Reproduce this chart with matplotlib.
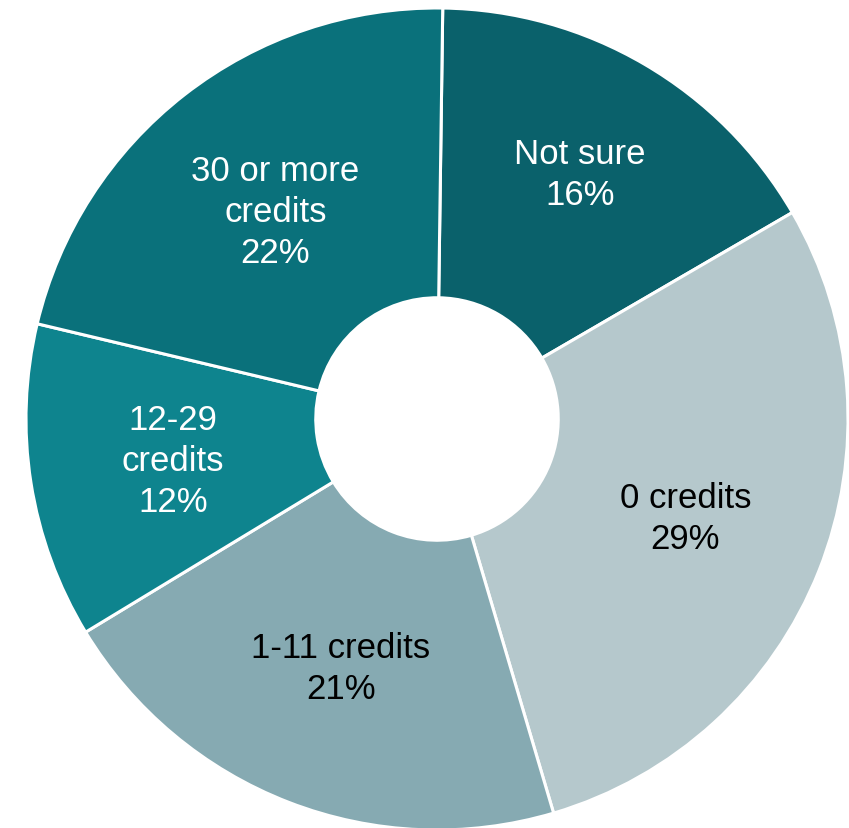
import numpy as np
import matplotlib.pyplot as plt

# ---------------- DATA ----------------

categories = ['Not sure', '0 credits', '1-11 credits', '12-29 credits', '30 or more credits']
shares = [16.4, 28.8, 20.9, 12.4, 21.5]
pct_labels = ['16%', '29%', '21%', '12%', '22%']
label_text = ['Not sure', '0 credits', '1-11 credits', '12-29\ncredits', '30 or more\ncredits']

colors = ['#0a616b', '#b5c8cc', '#86aab2', '#0e848e', '#0a717b']
text_colors = ['white', 'black', 'black', 'white', 'white']
label_radius = [0.69, 0.65, 0.65, 0.65, 0.64]

# ---------------- DRAW ----------------

plt.rcParams['font.family'] = ['Liberation Sans', 'DejaVu Sans']

fig = plt.figure(figsize=(8.49, 8.29), dpi=100)
ax = fig.add_axes([26 / 849, -2 / 829, 822 / 849, 822 / 829])

wedges, _ = ax.pie(
    shares,
    colors=colors,
    startangle=89.2,
    counterclock=False,
    radius=1.0,
    wedgeprops=dict(width=0.705, edgecolor='white', linewidth=2.2),
)

for w, lab, pct, tc, r in zip(wedges, label_text, pct_labels, text_colors, label_radius):
    mid = np.deg2rad((w.theta1 + w.theta2) / 2)
    ax.text(r * np.cos(mid), r * np.sin(mid), lab + '\n' + pct,
            ha='center', va='center', color=tc, fontsize=25,
            linespacing=1.3)

ax.set_xlim(-1, 1)
ax.set_ylim(-1, 1)
ax.set_aspect('equal')
ax.axis('off')

fig.savefig('out.png', dpi=100)
